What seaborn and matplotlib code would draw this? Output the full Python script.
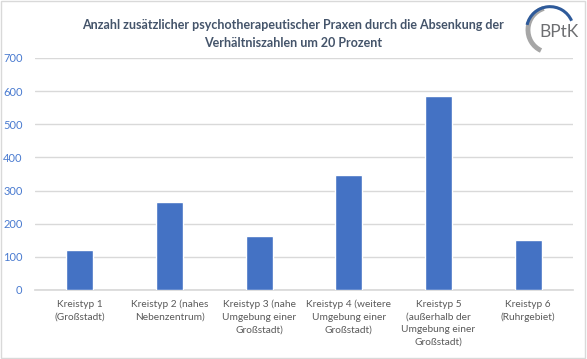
import matplotlib
matplotlib.use("Agg")
import matplotlib.pyplot as plt
import matplotlib.patches as mpatches
import seaborn as sns
import pandas as pd

categories = [
    "Kreistyp 1\n(Großstadt)",
    "Kreistyp 2 (nahes\nNebenzentrum)",
    "Kreistyp 3 (nahe\nUmgebung einer\nGroßstadt)",
    "Kreistyp 4 (weitere\nUmgebung einer\nGroßstadt)",
    "Kreistyp 5\n(außerhalb der\nUmgebung einer\nGroßstadt)",
    "Kreistyp 6\n(Ruhrgebiet)",
]
values = [120, 265, 164, 347, 584, 150]
y_ticks = [0, 100, 200, 300, 400, 500, 600, 700]

title = ("Anzahl zusätzlicher psychotherapeutischer Praxen durch die Absenkung der\n"
         "Verhältniszahlen um 20 Prozent")

sns.set_theme(style="white")
plt.rcParams["font.family"] = ["Lato", "DejaVu Sans"]

df = pd.DataFrame({"kreistyp": categories, "praxen": values})

fig = plt.figure(figsize=(5.87, 3.59), dpi=100)
ax = fig.add_axes([35 / 587, 1 - 290 / 359, 538 / 587, 232 / 359])

sns.barplot(data=df, x="kreistyp", y="praxen", color="#4472C4",
            width=0.3, saturation=1, ax=ax, zorder=3)

ax.set_ylim(0, 700)
ax.set_yticks(y_ticks)
ax.set_xlim(-0.5, len(categories) - 0.5)
ax.yaxis.grid(True, color="#D9D9D9", linewidth=1, zorder=0)
ax.set_xlabel("")
ax.set_ylabel("")
for s in ["top", "right", "left"]:
    ax.spines[s].set_visible(False)
ax.spines["bottom"].set_color("#D9D9D9")
ax.tick_params(axis="y", colors="#4A7BD0", labelsize=8, length=0, pad=9)
ax.tick_params(axis="x", colors="#595959", labelsize=7.3, length=0, pad=7)
for lbl in ax.get_xticklabels():
    lbl.set_linespacing(1.5)

fig.text(0.50, 0.905, title, ha="center", va="center", fontsize=9,
         fontweight="bold", color="#44546A", linespacing=1.6)

# border
fig.patches.append(mpatches.Rectangle((0.002, 0.003), 0.995, 0.993, transform=fig.transFigure,
                                      fill=False, edgecolor="#D9D9D9", linewidth=1))

# logo
arc_grey = mpatches.Arc((550 / 587, 1 - 30 / 359), 0.075, 0.125, theta1=100, theta2=255,
                        transform=fig.transFigure, color="#A6A6A6", linewidth=3.5)
arc_blue = mpatches.Arc((550 / 587, 1 - 30 / 359), 0.08, 0.13, theta1=35, theta2=160,
                        transform=fig.transFigure, color="#2E5A9A", linewidth=2.2)
fig.patches.extend([arc_grey, arc_blue])
fig.text(559 / 587, 1 - 32 / 359, "BPtK", ha="center", va="center", fontsize=12.5,
         color="#6D6E71")

fig.savefig("out.png", dpi=100)
